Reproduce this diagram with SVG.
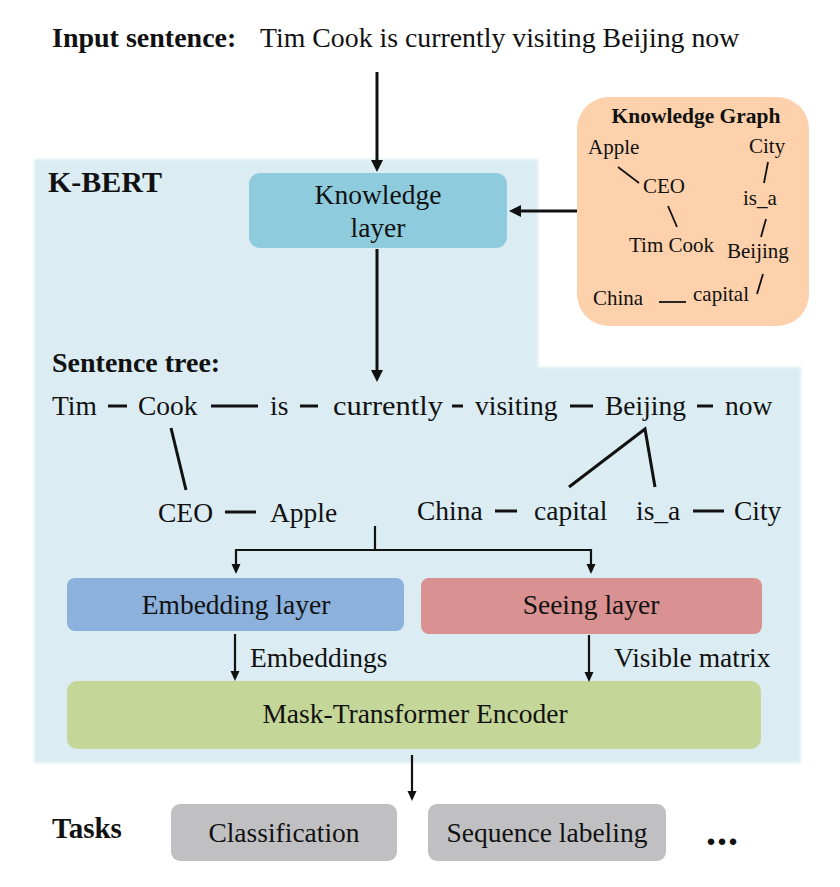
<svg xmlns="http://www.w3.org/2000/svg" width="840" height="887" viewBox="0 0 840 887">
<defs>
<style>
text{font-family:"Liberation Serif","Times New Roman",serif;fill:#111;}
.t{font-size:27.5px;}
.b{font-weight:bold;}
.kg{font-size:21px;}
.e{stroke:#111;stroke-width:3;fill:none;}
.e2{stroke:#111;stroke-width:2.2;fill:none;}
.k{stroke:#111;stroke-width:1.8;fill:none;}
</style>
<marker id="ah" markerUnits="userSpaceOnUse" markerWidth="12" markerHeight="12" refX="2" refY="6" orient="auto">
<path d="M0,0 L12,6 L0,12 z" fill="#111"/>
</marker>
<marker id="ah2" markerUnits="userSpaceOnUse" markerWidth="10" markerHeight="10" refX="2" refY="4.5" orient="auto">
<path d="M0,0 L10,4.5 L0,9 z" fill="#111"/>
</marker>
<filter id="soft" x="-5%" y="-5%" width="110%" height="110%"><feGaussianBlur stdDeviation="1.5"/></filter>
</defs>
<rect width="840" height="887" fill="#ffffff"/>

<g id="kbert-region">
<polygon points="34,159 538,159 538,367 801,367 801,763 34,763" fill="#dbedf3" filter="url(#soft)"/>
<text x="48" y="192" class="b" style="font-size:30px">K-BERT</text>
</g>

<g id="input">
<text x="52" y="47" class="t b" style="font-size:28px">Input sentence:</text>
<text x="260" y="47" class="t" style="font-size:27.8px">Tim Cook is currently visiting Beijing now</text>
</g>

<g id="knowledge-graph">
<rect x="577" y="97" width="232" height="229" rx="32" fill="#fcd1ac"/>
<text x="696" y="123" class="kg b" text-anchor="middle" style="font-size:21.5px">Knowledge Graph</text>
<text x="588" y="154" class="kg">Apple</text>
<text x="749" y="153" class="kg">City</text>
<text x="643" y="193" class="kg">CEO</text>
<text x="743" y="205" class="kg">is_a</text>
<text x="629" y="252" class="kg">Tim Cook</text>
<text x="727" y="258" class="kg">Beijing</text>
<text x="593" y="305" class="kg">China</text>
<text x="693" y="301" class="kg">capital</text>
<line class="k" x1="618" y1="167" x2="639" y2="183"/>
<line class="k" x1="668" y1="206" x2="677" y2="227"/>
<line class="k" x1="768" y1="162" x2="764" y2="183"/>
<line class="k" x1="766" y1="219" x2="761" y2="237"/>
<line class="k" x1="763" y1="274" x2="757" y2="294"/>
<line class="k" x1="659" y1="302" x2="686" y2="302"/>
</g>

<g id="knowledge-layer">
<rect x="249" y="173" width="258" height="75" rx="11" fill="#8ecbdc"/>
<text x="378" y="204" class="t" text-anchor="middle">Knowledge</text>
<text x="378" y="237" class="t" text-anchor="middle">layer</text>
</g>

<g id="sentence-tree">
<text x="52" y="372" class="t b" style="font-size:28px">Sentence tree:</text>
<text x="52" y="415" class="t">Tim</text>
<text x="138" y="415" class="t">Cook</text>
<text x="270" y="415" class="t">is</text>
<text x="333" y="415" class="t" textLength="110" lengthAdjust="spacingAndGlyphs">currently</text>
<text x="475" y="415" class="t">visiting</text>
<text x="605" y="415" class="t">Beijing</text>
<text x="725" y="415" class="t">now</text>
<text x="158" y="522" class="t">CEO</text>
<text x="270" y="522" class="t">Apple</text>
<text x="417" y="520" class="t">China</text>
<text x="534" y="520" class="t">capital</text>
<text x="636" y="520" class="t">is_a</text>
<text x="734" y="520" class="t">City</text>
<g class="e">
<line x1="108" y1="406" x2="127" y2="406"/>
<line x1="211" y1="406" x2="258" y2="406"/>
<line x1="300" y1="406" x2="318" y2="406"/>
<line x1="452" y1="406" x2="463" y2="406"/>
<line x1="570" y1="406" x2="593" y2="406"/>
<line x1="697" y1="406" x2="713" y2="406"/>
<line x1="225" y1="512" x2="256" y2="512"/>
<line x1="495" y1="511" x2="517" y2="511"/>
<line x1="693" y1="511" x2="724" y2="511"/>
<line x1="171" y1="428" x2="186" y2="490"/>
<polyline points="569,487 645,429 655,487"/>
</g>
</g>

<g id="embedding-layer">
<rect x="67" y="578" width="337" height="53" rx="8" fill="#8cb1dc"/>
<text x="236" y="614" class="t" text-anchor="middle">Embedding layer</text>
</g>

<g id="seeing-layer">
<rect x="421" y="578" width="341" height="56" rx="8" fill="#d99191"/>
<text x="591" y="614" class="t" text-anchor="middle">Seeing layer</text>
</g>

<g id="mask-transformer">
<rect x="67" y="681" width="694" height="68" rx="10" fill="#c4d698"/>
<text x="415" y="723" class="t" text-anchor="middle">Mask-Transformer Encoder</text>
</g>

<g id="tasks">
<text x="52" y="838" class="t b" style="font-size:29px">Tasks</text>
<rect x="171" y="804" width="226" height="57" rx="9" fill="#c0c0c3"/>
<text x="284" y="842" class="t" text-anchor="middle">Classification</text>
<rect x="428" y="804" width="238" height="57" rx="9" fill="#c0c0c3"/>
<text x="547" y="842" class="t" text-anchor="middle">Sequence labeling</text>
<text x="706" y="845" class="t b" style="font-size:40px;letter-spacing:1px">...</text>
</g>

<g id="connectors">
<line class="e" x1="377" y1="72" x2="377" y2="162" marker-end="url(#ah)"/>
<line class="e" x1="577" y1="211" x2="519" y2="211" marker-end="url(#ah)"/>
<line class="e" x1="377" y1="249" x2="377" y2="372" marker-end="url(#ah)"/>
<polyline class="e2" points="375,526 375,550 236,550 236,566" marker-end="url(#ah2)"/>
<polyline class="e2" points="375,550 591,550 591,566" marker-end="url(#ah2)"/>
<line class="e2" x1="235" y1="634" x2="235" y2="673" marker-end="url(#ah2)"/>
<line class="e2" x1="589" y1="635" x2="589" y2="674" marker-end="url(#ah2)"/>
<line class="e2" x1="412" y1="755" x2="412" y2="793" marker-end="url(#ah2)"/>
<text x="250" y="667" class="t">Embeddings</text>
<text x="614" y="667" class="t">Visible matrix</text>
</g>
</svg>
